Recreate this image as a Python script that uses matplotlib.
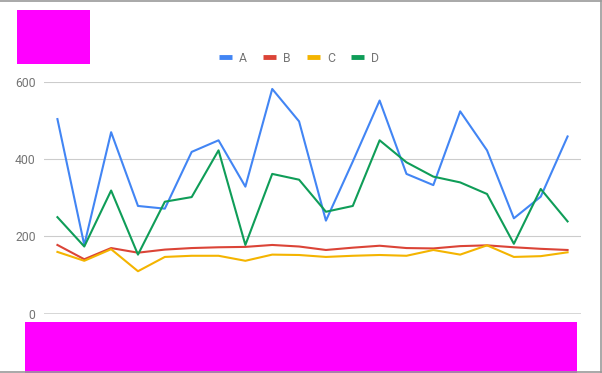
import matplotlib.pyplot as plt
from matplotlib.patches import Rectangle
from matplotlib.lines import Line2D

# values (20 categories, no axis labels shown)
series_names = ["A", "B", "C", "D"]
a_vals = [504, 178, 470, 279, 272, 419, 449, 329, 582, 498,
          241, 394, 552, 362, 333, 524, 423, 247, 303, 459]
b_vals = [178, 141, 170, 158, 166, 170, 172, 173, 178, 174,
          165, 171, 176, 170, 169, 175, 177, 172, 168, 165]
c_vals = [160, 137, 167, 110, 147, 150, 150, 137, 153, 152,
          147, 150, 152, 150, 165, 153, 177, 147, 149, 159]
d_vals = [250, 174, 319, 153, 290, 302, 423, 178, 362, 347,
          264, 279, 449, 392, 355, 340, 310, 181, 323, 239]
y_ticks = [0, 200, 400, 600]

colors = ["#4285F4", "#DB4437", "#F4B400", "#0F9D58"]
W, H = 602, 373

plt.rcParams['font.family'] = ['Roboto', 'DejaVu Sans']

fig = plt.figure(figsize=(W / 100, H / 100), dpi=100)
fig.patch.set_facecolor("white")

# plot area in pixels: x 44..581, y(600)=82, y(0)=313.7
ax = fig.add_axes([44 / W, (H - 313.7) / H, 537 / W, (313.7 - 82) / H])
xs = list(range(len(a_vals)))
for vals, name, col in zip([a_vals, b_vals, c_vals, d_vals], series_names, colors):
    ax.plot(xs, vals, color=col, lw=1.5, label=name, zorder=3)

ax.set_xlim(-0.5, len(a_vals) - 0.5)
ax.set_ylim(0, 600)
ax.set_yticks(y_ticks)
ax.set_yticklabels([str(t) for t in y_ticks])
ax.set_xticks([])
for t in y_ticks[1:]:
    ax.axhline(t, color="#cccccc", lw=0.8, zorder=1)
ax.axhline(0, color="#333333", lw=1.0, zorder=4)
for s in ax.spines.values():
    s.set_visible(False)
ax.tick_params(axis="y", length=0, pad=6, labelsize=8.8, labelcolor="#757575")

# legend row
handles = [Line2D([0], [0], color=c, lw=3.5, solid_capstyle="butt") for c in colors]
fig.legend(handles, series_names, loc="center", bbox_to_anchor=(299 / W, 1 - 58 / H),
           ncol=4, frameon=False, fontsize=8.8, labelcolor="#757575",
           handlelength=1.05, handletextpad=0.6, columnspacing=1.3)

# frame lines of the screenshot
fig.add_artist(Line2D([0, 600.5 / W], [1 - 0.5 / H, 1 - 0.5 / H], color="#999999", lw=1.2))
fig.add_artist(Line2D([600.5 / W, 600.5 / W], [0, 1], color="#999999", lw=1.2))
fig.add_artist(Line2D([0, 600.5 / W], [0.7 / H, 0.7 / H], color="#999999", lw=1.2))

# magenta blocks
fig.add_artist(Rectangle((17 / W, 1 - 64 / H), 73 / W, 54 / H,
                         facecolor="#ff00ff", edgecolor="none"))
fig.add_artist(Rectangle((25 / W, 0), 552 / W, (H - 322) / H,
                         facecolor="#ff00ff", edgecolor="none"))

fig.savefig("out.png", dpi=100)
